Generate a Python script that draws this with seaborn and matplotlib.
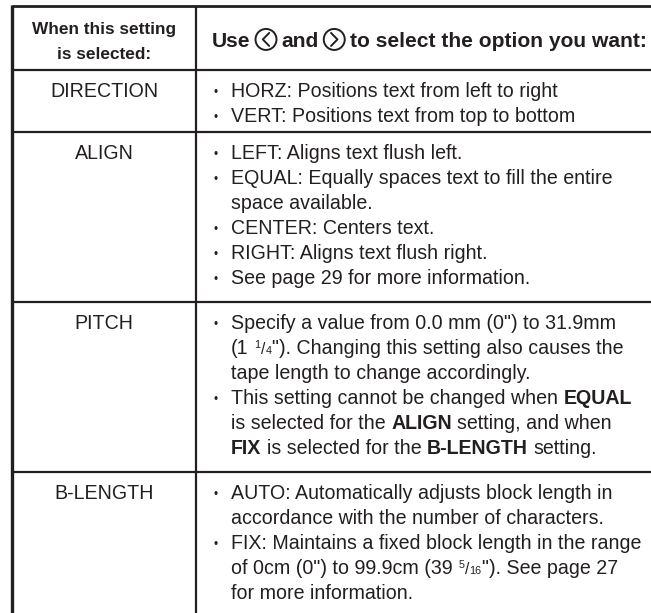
import re
import matplotlib
matplotlib.use("Agg")
import matplotlib.pyplot as plt
import seaborn as sns
from matplotlib.patches import Circle

# table content
header_left = ["When this setting", "is selected:"]
header_right = ["Use", "<", "and", ">", "to select the option you want:"]
settings = ["DIRECTION", "ALIGN", "PITCH", "B-LENGTH"]
options = [
    [["HORZ: Positions text from left to right"],
     ["VERT: Positions text from top to bottom"]],
    [["LEFT: Aligns text flush left."],
     ["EQUAL: Equally spaces text to fill the entire", "space available."],
     ["CENTER: Centers text."],
     ["RIGHT: Aligns text flush right."],
     ["See page 29 for more information."]],
    [["Specify a value from 0.0 mm (0\") to 31.9mm",
      "(1 {1/4}\"). Changing this setting also causes the",
      "tape length to change accordingly."],
     ["This setting cannot be changed when *EQUAL*",
      "is selected for the *ALIGN* setting, and when",
      "*FIX* is selected for the *B-LENGTH* setting."]],
    [["AUTO: Automatically adjusts block length in",
      "accordance with the number of characters."],
     ["FIX: Maintains a fixed block length in the range",
      "of 0cm (0\") to 99.9cm (39 {5/16}\"). See page 27",
      "for more information."]],
]

# layout (pixels)
W, H = 651, 613
row_edges = [6, 70, 132, 302, 472]
x_left, x_div, x_right = 12, 196, 653
line_h = 25
fs = 14.1          # body font size, pt
px = fs * 100 / 72
ink = "#231f20"

sns.set_style("white")
plt.rcParams["font.family"] = ["Liberation Sans", "DejaVu Sans"]

fig = plt.figure(figsize=(W / 100, H / 100), dpi=100)
ax = fig.add_axes([0, 0, 1, 1])
ax.set_xlim(0, W)
ax.set_ylim(H, 0)
ax.axis("off")
fig.canvas.draw()
rend = fig.canvas.get_renderer()


def width(s, **kw):
    t = ax.text(0, 0, s, **kw)
    w = t.get_window_extent(renderer=rend).width
    t.remove()
    return w


def space_w(**kw):
    return width("a a", **kw) - width("aa", **kw)


def put(x, y, s, **kw):
    ax.text(x, y, s, **kw)
    return x + width(s, **kw)


def draw_runs(x, y, line, size=fs, color=ink):
    parts = re.split(r"(\*[^*]+\*|\{\d+/\d+\})", line)
    for p in parts:
        if not p:
            continue
        kw = dict(fontsize=size, color=color, va="baseline", ha="left")
        if p.startswith("{"):
            num, den = p[1:-1].split("/")
            small = dict(kw, fontsize=size * 0.55)
            x = put(x, y - px * 0.33, num, **small) + 0.5
            x = put(x, y, "/", **dict(kw, fontsize=size * 0.8)) + 0.5
            x = put(x, y, den, **small)
            continue
        if p.startswith("*"):
            p = p[1:-1]
            kw["fontweight"] = "bold"
        sp = space_w(**kw)
        lead = len(p) - len(p.lstrip(" "))
        trail = len(p) - len(p.rstrip(" "))
        core = p.strip(" ")
        x += lead * sp
        if core:
            x = put(x, y, core, **kw)
        x += trail * sp
    return x


# grid lines
lw_in = 1.6
for y in row_edges[1:]:
    ax.plot([x_left, x_right], [y, y], color=ink, lw=lw_in, solid_capstyle="butt")
ax.plot([x_left, x_right], [row_edges[0], row_edges[0]], color=ink, lw=2.0,
        solid_capstyle="butt")
ax.plot([x_left, x_left], [row_edges[0] - 1, H], color=ink, lw=2.4,
        solid_capstyle="butt")
ax.plot([x_div, x_div], [row_edges[0], H], color=ink, lw=lw_in, solid_capstyle="butt")

# header, left cell
col1_c = (x_left + x_div) / 2
for i, s in enumerate(header_left):
    ax.text(col1_c, 34 + i * 25, s, fontsize=12.4, fontweight="bold", color=ink,
            ha="center", va="baseline")

# header, right cell: fit bold size so the line spans x 212 -> 647
r = 10.5
gap = 5
words = [s for s in header_right if s not in ("<", ">")]
fixed = 2 * (2 * r) + 4 * gap
hfs = 15
for _ in range(3):
    tw = sum(width(s, fontsize=hfs, fontweight="bold") for s in words)
    hfs *= (647 - 212 - fixed) / tw
hkw = dict(fontsize=hfs, fontweight="bold", color=ink, va="baseline", ha="left")
x = 212
yb = 47
cap = hfs * 100 / 72 * 0.72
for s in header_right:
    if s in ("<", ">"):
        cx = x + r
        cy = yb - cap / 2
        ax.add_patch(Circle((cx, cy), r, fill=False, ec=ink, lw=1.4))
        d = 3.2 if s == ">" else -3.2
        ax.plot([cx - d, cx + d, cx - d], [cy - 6.5, cy, cy + 6.5], color=ink,
                lw=1.4)
        x += 2 * r + gap
    else:
        x = put(x, yb, s, **hkw) + gap

# body rows
x_bullet = 213
x_text = 231
for k, name in enumerate(settings):
    y0 = row_edges[k + 1] + 27
    ax.text(col1_c, y0, name, fontsize=fs, color=ink, ha="center",
            va="baseline")
    y = y0
    for opt in options[k]:
        ax.text(x_bullet, y - 1, "\u2022", fontsize=fs * 0.6, color=ink,
                ha="left", va="baseline")
        for ln in opt:
            draw_runs(x_text, y, ln)
            y += line_h

fig.savefig("out.png", dpi=100, facecolor="white")
